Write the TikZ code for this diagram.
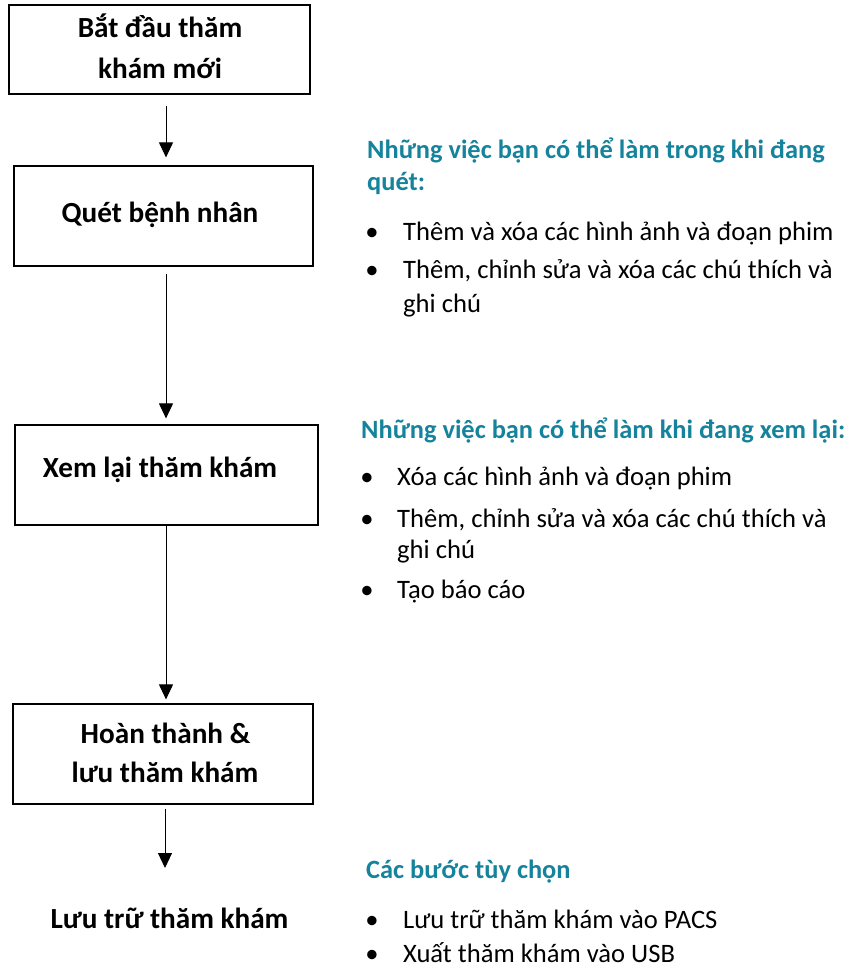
\documentclass[tikz,border=0pt]{standalone}
\usepackage{fontspec}
\setmainfont{Carlito}
\usetikzlibrary{arrows.meta}
\definecolor{headteal}{RGB}{20,131,155}
\begin{document}
\begin{tikzpicture}[x=1pt,y=-1pt,
  box/.style={draw=black,line width=1.2pt,rectangle,inner sep=0pt},
  boxtxt/.style={anchor=base,inner sep=0pt,font=\fontsize{29.2}{34}\selectfont\bfseries},
  headtxt/.style={anchor=base west,inner sep=0pt,text=headteal,font=\fontsize{26.4}{31}\selectfont\bfseries},
  itemtxt/.style={anchor=base west,inner sep=0pt,font=\fontsize{26.6}{31}\selectfont},
  bul/.style={anchor=base,inner sep=0pt,font=\fontsize{26.6}{31}\selectfont},
  arr/.style={draw=black,line width=1pt,-{Triangle[width=14pt,length=15pt]}}]
\useasboundingbox (0,0) rectangle (852,970);
% boxes
\node[box,minimum width=301pt,minimum height=89pt] (b1) at (159.5,49.5) {};
\node[box,minimum width=299pt,minimum height=100pt] (b2) at (163.5,216) {};
\node[box,minimum width=303pt,minimum height=100pt] (b3) at (166.5,475) {};
\node[box,minimum width=300pt,minimum height=100pt] (b4) at (163,754) {};
% box texts
\node[boxtxt] (t1a) at (160,37) {Bắt đầu thăm};
\node[boxtxt] (t1b) at (160,78) {khám mới};
\node[boxtxt] (t2) at (160,222) {Quét bệnh nhân};
\node[boxtxt] (t3) at (160,477) {Xem lại thăm khám};
\node[boxtxt] (t4a) at (165.5,743) {Hoàn thành \&};
\node[boxtxt] (t4b) at (165,782) {lưu thăm khám};
\node[boxtxt] (t5) at (169.5,928) {Lưu trữ thăm khám};
% arrows
\coordinate (ax) at (166,0);
\coordinate (ax4) at (165,0);
\draw[arr,shorten <=11pt,shorten >=8pt] (b1.south -| ax) -- (b2.north -| ax);
\draw[arr,shorten <=7pt,shorten >=6pt] (b2.south -| ax) -- (b3.north -| ax);
\draw[arr,shorten >=4pt] (b3.south -| ax) -- (b4.north -| ax);
\draw[arr,shorten <=4pt,shorten >=60pt] (b4.south -| ax4) -- (t5.base -| ax4);
% group 1
\node[headtxt] (h1a) at (367,158) {Những việc bạn có thể làm trong khi đang};
\node[headtxt] (h1b) at (367,190) {quét:};
\node[bul] (d1a) at (372,240) {•};
\node[itemtxt] (i1a) at (403,240) {Thêm và xóa các hình ảnh và đoạn phim};
\node[bul] (d1b) at (372,278) {•};
\node[itemtxt] (i1b) at (403,278) {Thêm, chỉnh sửa và xóa các chú thích và};
\node[itemtxt] (i1c) at (403,312) {ghi chú};
% group 2
\node[headtxt] (h2) at (361,438) {Những việc bạn có thể làm khi đang xem lại:};
\node[bul] (d2a) at (367,485) {•};
\node[itemtxt] (i2a) at (397,485) {Xóa các hình ảnh và đoạn phim};
\node[bul] (d2b) at (367,527) {•};
\node[itemtxt] (i2b) at (397,527) {Thêm, chỉnh sửa và xóa các chú thích và};
\node[itemtxt] (i2c) at (397,558) {ghi chú};
\node[bul] (d2c) at (367,598) {•};
\node[itemtxt] (i2d) at (397,598) {Tạo báo cáo};
% group 3
\node[headtxt] (h3) at (366,878) {Các bước tùy chọn};
\node[bul] (d3a) at (372,928) {•};
\node[itemtxt] (i3a) at (403,928) {Lưu trữ thăm khám vào PACS};
\node[bul] (d3b) at (372,962) {•};
\node[itemtxt] (i3b) at (403,962) {Xuất thăm khám vào USB};
\end{tikzpicture}
\end{document}
